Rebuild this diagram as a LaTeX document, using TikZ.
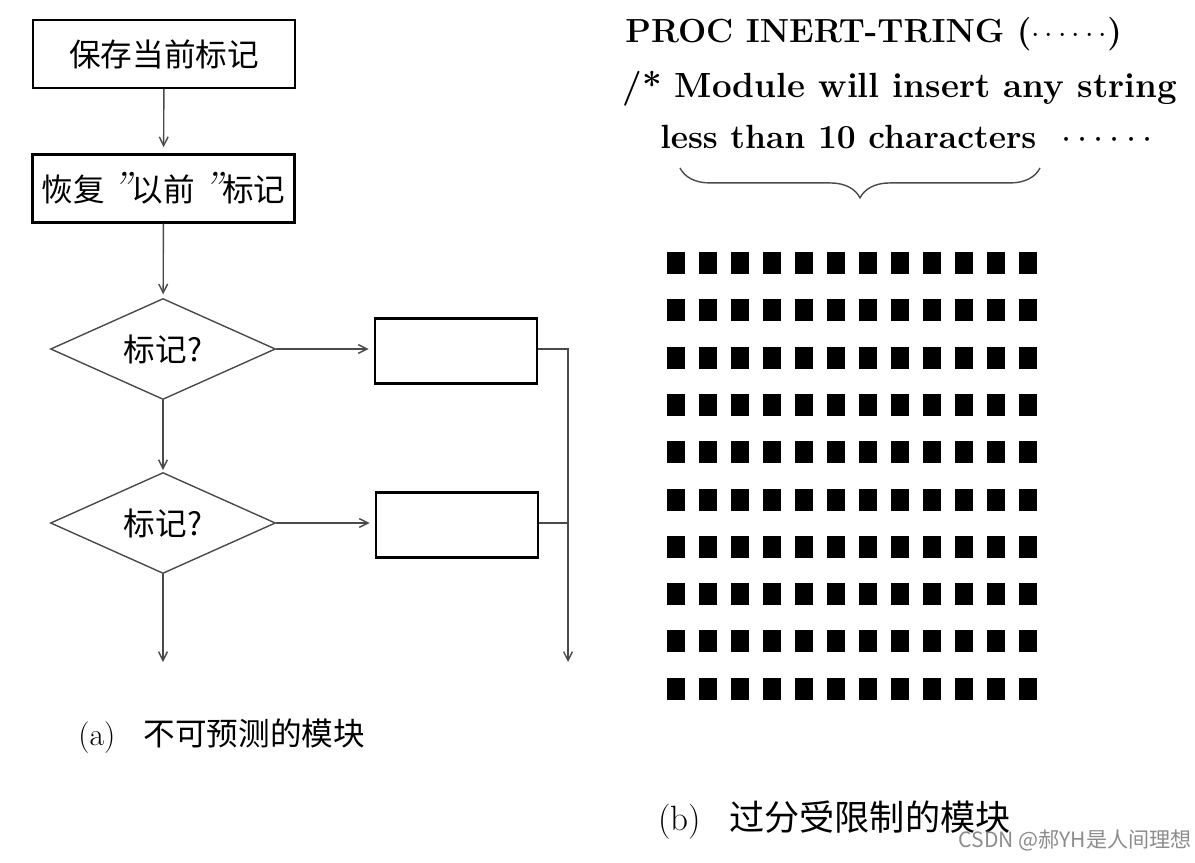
\documentclass[tikz,border=0pt]{standalone}
\usepackage{fontspec}
\newfontfamily\cjk{Noto Sans CJK SC}
\usetikzlibrary{shapes.geometric,arrows.meta,decorations.pathreplacing,calc}
\definecolor{LineGray}{HTML}{4A4A4A}
\definecolor{MarkGray}{HTML}{8C8C8C}
\newcommand{\slimquote}{{\rmfamily\itshape\fontsize{24}{20}\selectfont\,”}}
\tikzset{
  flowbox/.style={draw=black,line width=1.4pt,minimum width=5.24cm,minimum height=1.36cm,
    inner sep=0pt,font=\cjk\fontsize{18}{20}\selectfont},
  blankbox/.style={draw=black,line width=1.3pt,minimum width=3.24cm,minimum height=1.3cm,inner sep=0pt},
  testbox/.style={draw=LineGray,line width=0.8pt,shape=diamond,aspect=2.2,inner sep=0pt,
    minimum width=4.5cm,minimum height=2.02cm,font=\cjk\fontsize{18}{20}\selectfont},
  flowline/.style={draw=LineGray,line width=0.8pt,-{Straight Barb[length=5pt,width=5pt]}},
  codeline/.style={anchor=base west,inner sep=0pt,font=\bfseries},
  capline/.style={anchor=west,inner sep=0pt}
}
\begin{document}
\begin{tikzpicture}[x=0.02cm,y=-0.02cm]
  \useasboundingbox (0,0) rectangle (1195,862);
  % (a) flow chart
  \node[flowbox] (save) at (164,54) {保存当前标记};
  \node[flowbox] (restore) at (163.5,188.5) {恢复\slimquote 以前\slimquote 标记};
  \node[testbox] (test1) at (163,349) {标记?};
  \node[testbox] (test2) at (163,523) {标记?};
  \node[blankbox] (act1) at (456,351) {};
  \node[blankbox] (act2) at (457,525) {};
  \coordinate (join1) at (568,349);
  \coordinate (join2) at (568,523);
  \coordinate (out1) at (163,662);
  \coordinate (out2) at (568,662);
  \draw[flowline,shorten >=3.5pt] (save) -- (restore);
  \draw[flowline,shorten >=2pt] (restore) -- (test1);
  \draw[flowline,shorten >=1pt] (test1) -- (test2);
  \draw[flowline,shorten >=3pt] (test1.east) -- (test1.east -| act1.west);
  \draw[flowline,shorten >=3pt] (test2.east) -- (test2.east -| act2.west);
  \draw[flowline] (act1.east |- join1) -- (join1) -- (out2);
  \draw[LineGray,line width=0.8pt] (act2.east |- join2) -- (join2);
  \draw[flowline] (test2.south) -- (out1);
  \node[capline] (capa) at (78,736) {\fontsize{18}{20}\selectfont(a)\hspace{0.9em}\cjk 不可预测的模块};
  % (b) code block and cells
  \node[codeline] (head) at (625,42) {\fontsize{19}{22}\selectfont PROC INERT-TRING (\(\cdots\cdots\))};
  \node[codeline] (note1) at (622,97) {\fontsize{19.9}{22}\selectfont /* Module will insert any string};
  \node[codeline] (note2) at (660,148) {\fontsize{19.1}{22}\selectfont less than 10 characters\ \ \(\cdots\cdots\)};
  \draw[LineGray,line width=0.8pt,decorate,decoration={brace,mirror,amplitude=17pt}]
    (680,168) -- (1040,168);
  \foreach \r in {0,...,9}
    \foreach \c in {0,...,11}
      \fill[black] ({667+32*\c},{252+47.3*\r}) rectangle ++(18,22);
  \node[capline] (capb) at (658,820) {\fontsize{20}{22}\selectfont(b)\hspace{0.8em}\cjk 过分受限制的模块};
  \node[anchor=east,inner sep=0pt,text=MarkGray] (mark) at (1192,840)
    {\cjk\fontsize{12}{14}\selectfont CSDN @郝YH是人间理想};
\end{tikzpicture}
\end{document}
